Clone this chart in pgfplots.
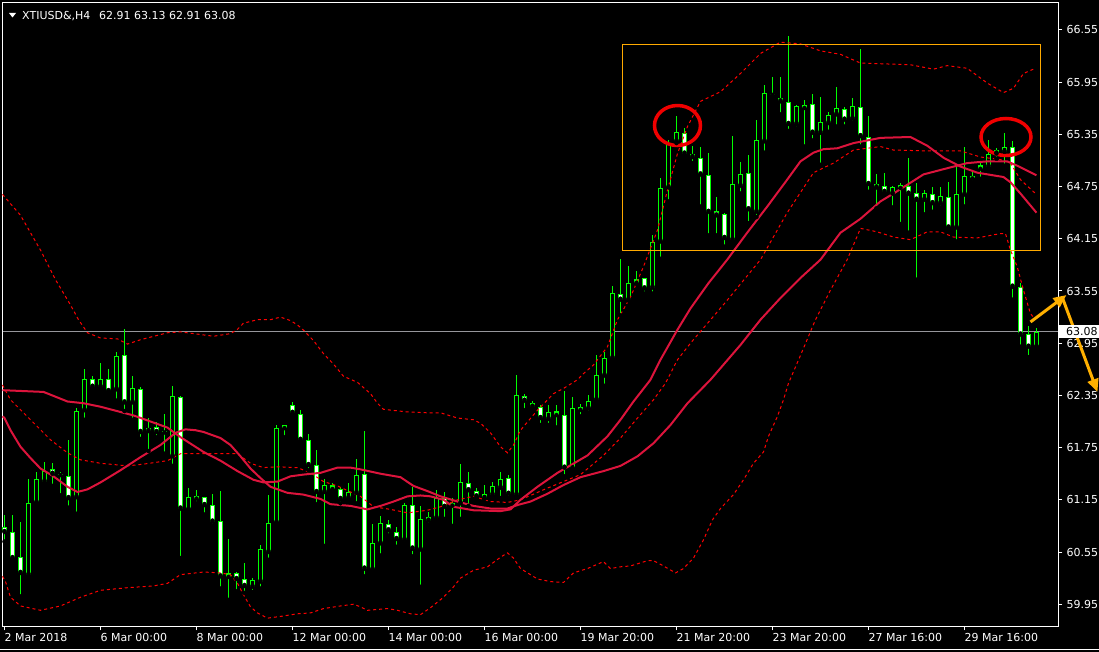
\documentclass[border=0pt]{standalone}
\usepackage{pgfplots}
\pgfplotsset{compat=1.18}
\usepackage{pgfplotstable}
\usepackage{fontspec}
\setmainfont{DejaVu Sans}
\usetikzlibrary{arrows.meta}
\definecolor{mtgreen}{RGB}{0,255,0}
\definecolor{macol}{RGB}{220,20,60}
\definecolor{bbcol}{RGB}{255,0,0}
\definecolor{boxcol}{RGB}{255,170,0}
\definecolor{arrcol}{RGB}{255,176,0}
\definecolor{bidcol}{RGB}{150,150,155}
\definecolor{circcol}{RGB}{240,0,0}

% bullish H4 candles (close above open)
\pgfplotstableread{
i O H L C
3 60.29 61.39 60.27 61.11
4 61.12 61.47 61.10 61.39
5 61.36 61.58 61.34 61.48
9 61.18 62.20 60.99 62.17
10 62.18 62.65 62.07 62.54
12 62.45 62.72 62.43 62.54
14 62.42 62.85 62.29 62.80
16 62.27 62.57 62.07 62.43
18 61.94 62.09 61.71 61.98
21 61.65 62.46 61.54 62.34
23 61.04 61.29 61.04 61.18
31 60.15 60.25 60.09 60.23
32 60.21 60.63 60.13 60.58
33 60.55 61.21 60.46 60.88
34 60.89 62.01 60.85 61.98
40 61.24 61.39 60.62 61.32
43 61.17 61.34 61.14 61.24
44 61.23 61.62 61.11 61.44
46 60.35 60.87 60.32 60.65
47 60.65 60.96 60.51 60.88
50 60.69 61.11 60.65 61.09
52 60.58 61.08 60.15 60.93
53 60.91 61.01 60.86 60.95
54 60.94 61.26 60.93 61.17
57 61.11 61.56 60.93 61.35
60 61.17 61.32 61.16 61.22
61 61.21 61.35 61.17 61.31
62 61.29 61.47 61.17 61.39
64 61.21 62.58 61.19 62.35
68 62.08 62.24 62.01 62.16
71 61.51 62.33 61.51 62.20
73 62.20 62.35 62.15 62.29
74 62.30 62.81 62.28 62.58
75 62.58 62.85 62.46 62.78
76 62.78 63.61 62.77 63.53
78 63.45 63.84 63.44 63.64
81 63.59 64.19 63.52 64.11
82 64.12 64.85 63.92 64.73
83 64.74 65.29 64.58 65.25
84 65.27 65.56 65.25 65.38
91 64.14 65.33 64.10 64.78
92 64.76 65.03 64.67 64.90
94 64.46 65.52 64.40 65.28
95 65.27 65.92 65.14 65.82
99 65.47 65.69 65.42 65.68
102 65.37 65.78 65.00 65.49
103 65.48 65.61 65.38 65.57
104 65.58 65.89 65.44 65.65
106 65.53 65.77 65.48 65.68
111 64.67 64.76 64.51 64.74
115 64.60 64.71 64.43 64.68
117 64.56 64.75 64.51 64.64
119 64.28 64.98 64.12 64.67
120 64.66 65.20 64.52 64.87
123 64.98 65.29 64.95 65.13
124 65.13 65.19 65.07 65.17
125 65.15 65.37 64.99 65.20
129 62.91 63.13 62.91 63.08
}\bull

% bearish H4 candles (close below open)
\pgfplotstableread{
i O H L C
0 60.84 60.98 60.67 60.78
1 60.78 60.98 60.47 60.48
2 60.49 60.90 60.04 60.31
6 61.50 61.57 61.31 61.45
8 61.42 61.84 61.06 61.17
11 62.54 62.57 62.43 62.45
13 62.54 62.65 62.40 62.40
15 62.81 63.11 62.17 62.27
17 62.42 62.45 61.85 61.93
19 61.99 62.05 61.87 61.93
22 62.33 62.34 60.48 61.05
25 61.18 61.18 60.98 61.09
26 61.09 61.22 60.85 60.90
27 60.91 61.25 60.13 60.27
29 60.31 60.32 60.10 60.24
30 60.24 60.42 60.08 60.16
36 62.24 62.27 62.11 62.15
37 62.14 62.18 61.82 61.84
38 61.84 61.91 61.49 61.55
39 61.55 61.72 61.10 61.24
42 61.27 61.30 61.11 61.16
45 61.45 61.94 60.27 60.36
48 60.87 60.92 60.74 60.80
49 60.78 60.84 60.61 60.70
51 61.09 61.30 60.50 60.59
55 61.17 61.24 60.93 61.07
58 61.34 61.47 61.08 61.26
59 61.25 61.29 61.17 61.19
63 61.40 61.44 61.17 61.22
65 62.34 62.37 62.18 62.29
66 62.26 62.29 62.19 62.22
67 62.22 62.24 62.01 62.09
70 62.12 62.40 61.42 61.52
77 63.52 63.92 63.27 63.45
80 63.70 63.70 63.52 63.58
85 65.37 65.42 65.11 65.13
86 65.13 65.22 65.02 65.09
87 65.08 65.21 64.52 64.89
88 64.88 65.14 64.19 64.46
89 64.47 64.63 64.19 64.42
90 64.43 64.45 64.06 64.16
93 64.91 65.11 64.33 64.49
97 65.77 66.01 65.58 65.73
98 65.72 66.48 65.39 65.47
101 65.70 65.81 65.28 65.37
105 65.64 65.66 65.44 65.52
107 65.67 66.33 65.21 65.33
108 65.32 65.56 64.69 64.78
109 64.78 64.90 64.50 64.74
110 64.76 64.91 64.67 64.69
113 64.76 65.08 64.22 64.67
114 64.68 64.79 63.68 64.60
116 64.67 64.75 64.46 64.56
118 64.63 64.80 64.25 64.28
126 65.20 65.27 63.45 63.60
127 63.60 63.64 62.91 63.05
128 63.06 63.15 62.79 62.91
}\bear

% candles with (almost) no body
\pgfplotstableread{
i O H L C
7 61.44 61.47 61.20 61.44
20 61.93 62.14 61.68 61.93
24 61.17 61.26 61.11 61.19
28 60.27 60.70 60.00 60.30
35 61.98 62.01 61.87 62.01
41 61.31 61.34 61.26 61.28
56 61.09 61.17 60.85 61.11
69 62.13 62.24 61.98 62.16
72 62.21 62.25 62.11 62.19
79 63.65 63.78 63.63 63.68
96 65.81 66.01 65.80 65.81
100 65.68 65.75 65.21 65.66
112 64.76 64.79 64.32 64.74
121 64.87 64.92 64.80 64.85
122 64.96 65.04 64.84 64.99
}\doji

\pgfplotsset{
  cbar/.style={only marks, mark=none, forget plot,
    error bars/.cd, y dir=plus, y explicit, error mark=none,
    error bar style={#1}},
  bb/.style={bbcol, line width=1pt, dash pattern=on 3pt off 3pt, forget plot},
  ma/.style={macol, line width=2pt, forget plot},
}

\begin{document}
\begin{tikzpicture}[x=1pt,y=1pt]
\useasboundingbox (0,0) rectangle (1099,652);
\fill[black] (0,0) rectangle (1099,652);
\begin{axis}[
  at={(2.5pt,25.5pt)}, anchor=south west,
  scale only axis, width=1056pt, height=624pt,
  xmin=-0.25, xmax=131.75, ymin=59.694, ymax=66.866,
  clip=false,
  axis line style={white, line width=1pt},
  xtick={0,12,24,36,48,60,72,84,96,108,120},
  xticklabels={2 Mar 2018, 6 Mar 00:00, 8 Mar 00:00, 12 Mar 00:00, 14 Mar 00:00, 16 Mar 00:00, 19 Mar 20:00, 21 Mar 20:00, 23 Mar 20:00, 27 Mar 16:00, 29 Mar 16:00},
  ytick={59.95,60.55,61.15,61.75,62.35,62.95,63.55,64.15,64.75,65.35,65.95,66.55},
  yticklabels={59.95,60.55,61.15,61.75,62.35,62.95,63.55,64.15,64.75,65.35,65.95,66.55},
  xtick pos=bottom, ytick pos=right, yticklabel pos=right,
  tick align=outside, major tick length=4pt,
  tick style={white, line width=1pt},
  xticklabel style={text=white, font=\fontsize{11}{13}\selectfont, anchor=north west, inner sep=0pt, yshift=-3pt},
  yticklabel style={text=white, font=\fontsize{11}{13}\selectfont, anchor=west, inner sep=0pt, xshift=4pt},
]
% bid line
\addplot[bidcol, line width=1pt, forget plot] coordinates {(-0.25,63.08) (131.75,63.08)};
% wicks
\addplot[cbar={draw=mtgreen, line width=1pt}] table[x=i, y=L, y error expr={\thisrow{H}-\thisrow{L}}] {\bull};
\addplot[cbar={draw=mtgreen, line width=1pt}] table[x=i, y=L, y error expr={\thisrow{H}-\thisrow{L}}] {\bear};
\addplot[cbar={draw=mtgreen, line width=1pt}] table[x=i, y=L, y error expr={\thisrow{H}-\thisrow{L}}] {\doji};
% body outlines
\addplot[cbar={draw=mtgreen, line width=5pt}] table[x=i, y=O, y error expr={\thisrow{C}-\thisrow{O}}] {\bull};
\addplot[cbar={draw=mtgreen, line width=5pt}] table[x=i, y=C, y error expr={\thisrow{O}-\thisrow{C}}] {\bear};
\addplot[cbar={draw=mtgreen, line width=5pt}] table[x=i, y expr={min(\thisrow{O},\thisrow{C})-0.006}, y error expr={abs(\thisrow{C}-\thisrow{O})+0.0115}] {\doji};
% body fills: black for bullish, white for bearish
\addplot[cbar={draw=black, line width=3pt}] table[x=i, y expr={\thisrow{O}+0.0115}, y error expr={\thisrow{C}-\thisrow{O}-0.023}] {\bull};
\addplot[cbar={draw=white, line width=3pt}] table[x=i, y expr={\thisrow{C}+0.0115}, y error expr={\thisrow{O}-\thisrow{C}-0.023}] {\bear};

% Bollinger upper
\addplot[bb] coordinates {(-0.25,64.66) (2,64.42) (4.5,64.02) (6.375,63.68) (8.25,63.39) (9.25,63.22) (10.375,63.07) (12,63.01) (14.125,63.00) (15.375,62.94) (17,62.99) (20.375,63.07) (22,63.08) (24.5,63.05) (26.125,63.03) (28.25,63.06) (29.125,63.11) (29.875,63.18) (31.625,63.22) (33.25,63.22) (34.5,63.25) (35.75,63.21) (36.625,63.16) (37.375,63.10) (38.625,62.98) (39.875,62.83) (41.125,62.71) (42.375,62.57) (44.125,62.50) (45.75,62.37) (46.625,62.26) (47.375,62.19) (50.375,62.16) (52.875,62.15) (54.5,62.15) (56.625,62.09) (58.625,62.07) (59.5,62.03) (60.75,61.92) (62,61.76) (62.875,61.69) (63.625,61.78) (64.5,61.95) (66.625,62.18) (68.625,62.37) (69.875,62.43) (71.625,62.53) (72.375,62.60) (73.625,62.70) (75.375,62.91) (76.625,63.22) (78.25,63.48) (79.875,63.83) (81.625,64.25) (82.875,64.71) (84.125,65.13) (85.375,65.44) (87,65.73) (89.5,65.84) (92,66.05) (94.5,66.28) (97,66.41) (99.5,66.39) (102,66.31) (104.5,66.27) (107,66.17) (113.25,66.15) (116.125,66.10) (117.84,66.14) (120.34,66.11) (122.84,65.94) (124.875,65.83) (126.125,65.88) (127.375,66.05) (128.625,66.10)};
% Bollinger middle
\addplot[bb] coordinates {(-0.25,62.47) (0.75,62.30) (3.25,62.07) (5.75,61.84) (7.875,61.69) (9.5,61.61) (12,61.57) (15.375,61.54) (17.375,61.56) (20.375,61.60) (22,61.68) (29.125,61.68) (30.75,61.57) (32.375,61.52) (34.125,61.53) (36.625,61.52) (38.25,61.46) (39.875,61.36) (41.625,61.31) (43.25,61.24) (44.5,61.19) (46.125,61.07) (48.25,61.04) (50.375,61.00) (52.875,61.03) (54.5,61.07) (56.625,61.15) (58.625,61.19) (60.75,61.13) (62.875,61.12) (64.5,61.15) (67.75,61.28) (72,61.44) (74.875,61.66) (77,61.86) (79.125,62.09) (81.125,62.30) (82.625,62.49) (84.125,62.76) (85.75,62.95) (90.125,63.42) (94.5,63.91) (97.84,64.45) (101.125,64.91) (103.625,65.02) (106.125,65.17) (109.5,65.21) (111.125,65.17) (115.34,65.16) (119.5,65.16) (122,65.09) (124.5,65.06) (125.75,65.02) (127,64.83) (128.875,64.67)};
% Bollinger lower
\addplot[bb] coordinates {(-0.25,60.27) (0.125,60.21) (0.75,60.03) (2,59.93) (4.5,59.88) (7,59.93) (9.5,60.03) (12,60.11) (15.375,60.14) (18.625,60.16) (20.375,60.19) (22,60.29) (24.875,60.32) (27,60.31) (28.25,60.29) (29.125,60.19) (29.875,60.06) (30.75,59.92) (31.625,59.85) (32.875,59.79) (34.5,59.81) (36.625,59.84) (38.25,59.85) (39.875,59.90) (42,59.93) (43.625,59.95) (44.5,59.92) (45.375,59.88) (46.625,59.89) (47.875,59.90) (49.125,59.88) (50.75,59.84) (52,59.83) (53.25,59.91) (54.875,60.03) (56.125,60.15) (57,60.25) (58.625,60.34) (60.375,60.38) (62,60.49) (62.875,60.54) (63.625,60.48) (64.5,60.36) (66.625,60.24) (68.25,60.21) (69.875,60.20) (71.125,60.31) (72.875,60.36) (74.875,60.44) (75.75,60.36) (77,60.38) (78.25,60.39) (80.375,60.45) (81.125,60.45) (82.375,60.39) (83.875,60.31) (84.875,60.36) (86.125,60.48) (87.375,60.69) (88.5,60.92) (89.5,61.05) (91.125,61.21) (92.375,61.38) (93.625,61.57) (94.875,61.70) (95.5,61.88) (96.625,62.11) (97.375,62.30) (98,62.49) (99.5,62.81) (101.375,63.22) (103.25,63.56) (105.34,63.91) (107,64.27) (109.09,64.23) (111.125,64.17) (113.25,64.14) (115.34,64.23) (117,64.23) (118.625,64.17) (121.59,64.16) (124.5,64.21) (125.125,64.21) (125.75,64.02) (126.59,63.83) (127.375,63.56) (128.25,63.29) (128.875,63.22)};

% slow MA
\addplot[ma] coordinates {(-0.25,62.41) (4.875,62.39) (7.875,62.28) (9.875,62.26) (12,62.22) (16.125,62.12) (20.375,61.98) (22,61.87) (24.875,61.70) (27,61.60) (29.125,61.48) (31.125,61.38) (32.375,61.35) (34.125,61.36) (35.75,61.42) (37.375,61.44) (39.5,61.46) (41.625,61.52) (43.25,61.52) (44.5,61.50) (47,61.45) (49.5,61.41) (51.125,61.31) (52.875,61.25) (54.5,61.19) (56.625,61.13) (58.625,61.08) (60.75,61.05) (62.875,61.05) (64.125,61.09) (65.75,61.13) (67.875,61.22) (69.875,61.32) (72,61.41) (74.875,61.48) (77,61.54) (79.125,61.65) (81.125,61.80) (83.25,62.01) (85.375,62.26) (88.25,62.53) (92,62.93) (94.5,63.22) (97,63.47) (99.5,63.70) (102,63.91) (104.5,64.22) (107,64.38) (109.5,64.58) (111.125,64.67) (114.875,64.89) (117.375,64.95) (120.34,65.02) (122.84,65.04) (125.34,65.04) (126.59,64.99) (129,64.88)};
% fast MA
\addplot[ma] coordinates {(-0.25,62.11) (0,62.09) (0.75,61.95) (2,61.76) (3.25,61.63) (4.5,61.51) (6.125,61.42) (7.875,61.30) (9.125,61.24) (10.375,61.27) (12,61.35) (14.5,61.49) (17,61.64) (19.5,61.78) (21.375,61.92) (22.625,61.96) (23.875,61.95) (24.875,61.93) (27,61.86) (28.25,61.78) (29.5,61.65) (30.75,61.51) (32,61.40) (33.25,61.30) (35.375,61.23) (37.375,61.21) (39.5,61.16) (40.75,61.10) (43.25,61.08) (45.375,61.04) (47,61.08) (48.625,61.13) (50.375,61.19) (52,61.20) (53.25,61.19) (54.875,61.15) (56.125,61.07) (58.625,61.03) (62,61.02) (63.25,61.04) (64.5,61.15) (66.625,61.30) (69.125,61.46) (72.875,61.66) (75.375,61.88) (77,62.07) (78.625,62.28) (80.75,62.53) (82,62.76) (84.09,63.10) (85.75,63.35) (88,63.64) (90.34,63.91) (92.84,64.22) (95.34,64.52) (97.84,64.83) (99.5,65.04) (101.125,65.14) (102.375,65.18) (104.09,65.19) (106.125,65.25) (107.84,65.28) (109.5,65.31) (113.25,65.32) (115.34,65.22) (117.41,65.08) (119.5,64.98) (121.59,64.91) (124.875,64.86) (125.75,64.80) (127,64.67) (129,64.45)};

% annotations
\draw[boxcol, line width=1pt] (axis cs:77.25,66.378) rectangle (axis cs:129.5,64.010);
\draw[circcol, line width=3.5pt] (axis cs:84.125,65.452) ellipse [x radius=23pt, y radius=20pt];
\draw[circcol, line width=3.5pt] (axis cs:125.19,65.320) ellipse [x radius=25pt, y radius=18.5pt];
\draw[arrcol, line width=3pt, -{Triangle[length=13pt,width=11pt]}] (axis cs:128.25,63.194) -- (axis cs:132.75,63.504);
\draw[arrcol, line width=3pt, -{Triangle[length=13pt,width=11pt]}] (axis cs:132.25,63.470) -- (axis cs:136.625,62.389);
\end{axis}
% title
\fill[white] (9,639) -- (16,639) -- (12.5,634.5) -- cycle;
\node[anchor=base west, inner sep=0pt, text=white, font=\fontsize{11}{13}\selectfont] at (22,632) {XTIUSD\&,H4};
\node[anchor=base west, inner sep=0pt, text=white, font=\fontsize{11}{13}\selectfont] at (99,632) {62.91 63.13 62.91 63.08};
% current price box
\fill[white] (1059,313.5) rectangle (1099,327);
\node[anchor=west, inner sep=0pt, text=black, font=\fontsize{11}{13}\selectfont] at (1066,320.25) {63.08};
% window bottom line
\draw[white, line width=1pt] (0,2.5) -- (1099,2.5);
\end{tikzpicture}
\end{document}
